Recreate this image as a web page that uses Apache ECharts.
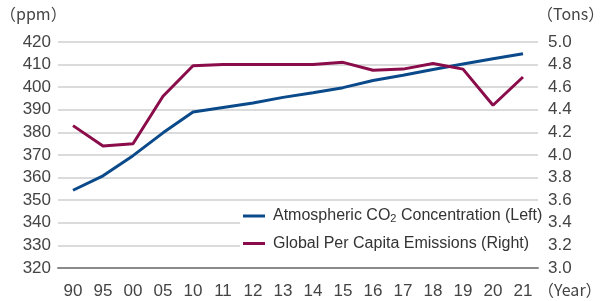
<!DOCTYPE html>
<html><head><meta charset="utf-8">
<script src="https://cdn.jsdelivr.net/npm/echarts@6/dist/echarts.min.js"></script>
<style>html,body{margin:0;padding:0;background:#fff}#c{width:603px;height:301px}</style>
</head><body><div id="c"></div>
<script>
const years = ['90','95','00','05','10','11','12','13','14','15','16','17','18','19','20','21'];
const co2 = [354.4,360.8,369.7,379.8,389.0,391.0,393.0,395.5,397.5,399.8,403.0,405.3,407.8,410.3,412.6,414.8];
const emissions = [4.26,4.08,4.10,4.52,4.79,4.80,4.80,4.80,4.80,4.82,4.75,4.76,4.81,4.76,4.44,4.69];
const leftTicks = {min:320,max:420,step:10};
const rightTicks = {min:3.0,max:5.0,step:0.2};
const seriesNames = ['Atmospheric CO2 Concentration (Left)','Global Per Capita Emissions (Right)'];

const cjk = '"Noto Sans CJK JP","Noto Sans",sans-serif';
const font = '"Liberation Sans","Noto Sans",sans-serif';
const chart = echarts.init(document.getElementById('c'));
chart.setOption({
  animation:false,
  textStyle:{fontFamily:font},
  grid:{left:58,right:65,top:42,bottom:33},
  xAxis:{type:'category',data:years,boundaryGap:true,
    axisLine:{lineStyle:{color:'#8a8a8a',width:2}},
    axisTick:{show:false},
    axisLabel:{color:'#444',fontSize:17,margin:15,fontFamily:font}},
  yAxis:[
    {type:'value',min:leftTicks.min,max:leftTicks.max,interval:leftTicks.step,
     axisLine:{show:false},axisTick:{show:false},
     axisLabel:{color:'#444',fontSize:17,margin:7,fontFamily:font},
     splitLine:{lineStyle:{color:'#cfcfcf',width:1.5}}},
    {type:'value',min:rightTicks.min,max:rightTicks.max,interval:rightTicks.step,
     axisLine:{show:false},axisTick:{show:false},
     axisLabel:{color:'#444',fontSize:17,margin:10,fontFamily:font,formatter:v=>v.toFixed(1)},
     splitLine:{show:false}}
  ],
  legend:{orient:'vertical',left:240,top:204,backgroundColor:'#fff',
    padding:[4,0,6,3],itemGap:11,itemWidth:22,itemHeight:3,icon:'rect',
    data:seriesNames,
    formatter:n=>n.indexOf('CO2')>=0?'Atmospheric CO{sub|2} Concentration (Left)':n,
    textStyle:{color:'#333',fontSize:16,fontFamily:font,padding:[0,0,0,3],
      rich:{sub:{fontSize:11,verticalAlign:'bottom',padding:[6,0,0,0],color:'#333',fontFamily:font}}}},
  graphic:[
    {type:'text',left:0,top:6,style:{text:'（ppm）',font:'16px '+cjk,fill:'#444'}},
    {type:'text',left:537,top:6,style:{text:'（Tons）',font:'16px '+cjk,fill:'#444'}},
    {type:'text',left:538,top:282,style:{text:'（Year）',font:'16px '+cjk,fill:'#444'}}
  ],
  series:[
    {name:seriesNames[0],type:'line',yAxisIndex:0,data:co2,showSymbol:false,
     lineStyle:{color:'#0b4a8a',width:3},itemStyle:{color:'#0b4a8a'}},
    {name:seriesNames[1],type:'line',yAxisIndex:1,data:emissions,showSymbol:false,
     lineStyle:{color:'#8a0c4a',width:3},itemStyle:{color:'#8a0c4a'}}
  ]
});
</script></body></html>
